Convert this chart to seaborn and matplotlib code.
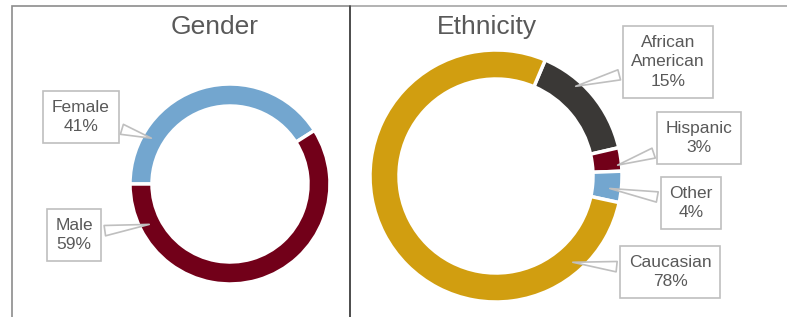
import matplotlib
matplotlib.use("Agg")
import matplotlib.pyplot as plt
from matplotlib.patches import Rectangle
import seaborn as sns

# data
gender_labels = ["Female", "Male"]
gender_values = [41, 59]
gender_colors = ["#73A6CF", "#720019"]

eth_labels = ["African\nAmerican", "Hispanic", "Other", "Caucasian"]
eth_values = [15, 3, 4, 78]
eth_colors = ["#3A3836", "#720019", "#73A6CF", "#D19E10"]

sns.set_style("white")
plt.rcParams["font.family"] = ["Liberation Sans", "DejaVu Sans"]

W, H = 787, 317
fig = plt.figure(figsize=(W / 100, H / 100), dpi=100)
ax = fig.add_axes([0, 0, 1, 1])

txt_col = "#595959"
box_col = "#BFBFBF"


def donut(values, colors, labels, center, radius, width, start, label_pos, tips):
    ax.pie(values, colors=colors, center=center, radius=radius,
           startangle=start, counterclock=False,
           wedgeprops=dict(width=width, edgecolor="white", linewidth=2.5))
    for lab, val, (tx, ty), (px, py) in zip(labels, values, label_pos, tips):
        ax.annotate(f"{lab}\n{val}%", xy=(px, H - py), xytext=(tx, H - ty),
                    ha="center", va="center", fontsize=12.5, color=txt_col,
                    linespacing=1.4,
                    bbox=dict(boxstyle="square,pad=0.5", fc="white", ec=box_col, lw=1.2),
                    arrowprops=dict(arrowstyle="wedge,tail_width=0.6,shrink_factor=0.5",
                                    fc="white", ec=box_col, lw=1.2))


donut(gender_values, gender_colors, gender_labels, (230, H - 184), 100, 22, 180,
      [(81, 117), (74, 235)], [(154, 139), (152, 224)])
donut(eth_values, eth_colors, eth_labels, (496, H - 176), 126, 29, 67,
      [(668, 62), (699, 138), (691, 203), (670, 272)],
      [(573, 87), (615, 166), (607, 188), (570, 262)])

# panel frames
ax.add_patch(Rectangle((11.5, -10), 338, H - 5 + 10 - 0.5, fill=False, ec="#8C8C8C", lw=1.2))
ax.add_patch(Rectangle((349.5, -10), 450, H - 5 + 10 - 0.5, fill=False, ec="#A6A6A6", lw=1.2))
ax.plot([349.5, 349.5], [-10, H - 5.5], color="#404040", lw=1.2)

ax.text(215, H - 27, "Gender", ha="center", va="center", fontsize=19, color=txt_col)
ax.text(487, H - 27, "Ethnicity", ha="center", va="center", fontsize=19, color=txt_col)

# pie() resets limits, so set pixel-like coordinates afterwards
ax.set_xlim(0, W)
ax.set_ylim(0, H)
ax.set_aspect("equal")
ax.axis("off")

fig.savefig("out.png", dpi=100)
